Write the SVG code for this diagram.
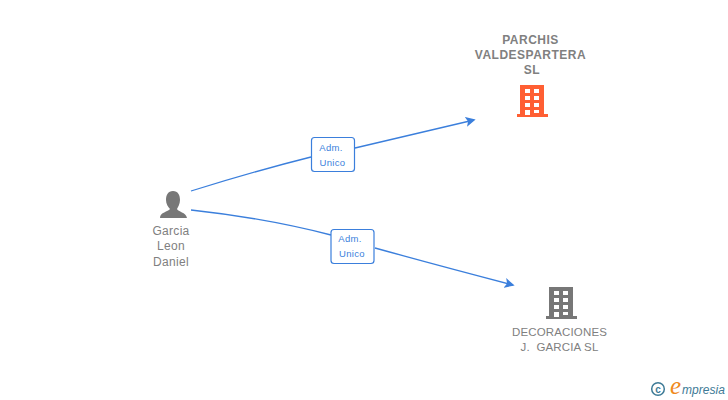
<svg xmlns="http://www.w3.org/2000/svg" width="728" height="400" viewBox="0 0 728 400">
<style>
.n{font-family:"Liberation Sans",Arial,sans-serif;font-size:12px;fill:#808080;text-anchor:middle}
.b{font-weight:bold;letter-spacing:.5px}
.d{font-size:11.500px;letter-spacing:.15px;white-space:pre}
.g{letter-spacing:.3px}
.l{font-family:"Liberation Sans",Arial,sans-serif;font-size:9.500px;fill:#3b7fdc;text-anchor:middle;letter-spacing:.35px}
.c{fill:none;stroke:#3b7fdc;stroke-width:1.300}
.box{fill:#fff;stroke:#3b7fdc;stroke-width:1.200}
</style>
<defs>
<marker id="a" viewBox="0 0 9 9" refX="7.500" refY="4.500" markerWidth="10" markerHeight="10" markerUnits="userSpaceOnUse" orient="auto"><path d="M0 0L9 4.500L0 9L2 4.500Z" fill="#3b7fdc"/></marker>
<g id="bld">
<path fill-rule="evenodd" d="M3 0H27V29H31V32H0V29H3ZM8 4V8H13V4ZM17 4V8H22V4ZM8 11V15H13V11ZM17 11V15H22V11ZM8 18V22H13V18ZM17 18V22H22V18ZM8 25V30H13V25ZM17 25V28H22V25Z"/>
</g>
</defs>
<g id="connectors">
<path class="c" marker-end="url(#a)" d="M191 191Q255 171 311 157M355 148Q410 135 474 120"/>
<path class="c" marker-end="url(#a)" d="M191 210Q265 218 331 235M375 248Q440 266 513 285"/>
</g>
<g id="edge1"><rect class="box" x="311.500" y="137.500" width="43" height="34" rx="3"/><text class="l" x="331" y="151">Adm.</text><text class="l" x="332.500" y="166">Unico</text></g>
<g id="edge2"><rect class="box" x="331" y="229.500" width="43" height="34" rx="3"/><text class="l" x="350" y="242">Adm.</text><text class="l" x="352" y="257">Unico</text></g>
<g id="person">
<path fill="#777" d="M173 191C178 191 180 195 180 200C180 204 178 207 177 209C178 212 186 212 187 218H160C160 212 168 212 170 209C168 207 166 204 166 200C166 195 168 191 173 191Z"/>
<text class="n g" x="171" y="235">Garcia</text><text class="n g" x="171" y="250">Leon</text><text class="n g" x="171" y="266">Daniel</text>
</g>
<g id="parchis">
<text class="n b" x="530.500" y="44">PARCHIS</text><text class="n b" x="530.500" y="59">VALDESPARTERA</text><text class="n b" x="532" y="74">SL</text>
<use href="#bld" x="517" y="85" fill="#ff5f33"/>
</g>
<g id="decoraciones">
<use href="#bld" x="546" y="287" fill="#777"/>
<text class="n d" x="559.500" y="336">DECORACIONES</text><text class="n d" x="559.500" y="351">J.  GARCIA SL</text>
</g>
<g id="logo">
<circle cx="658" cy="389" r="6.300" fill="none" stroke="#3d7a96" stroke-width="1.500"/>
<text x="658" y="392.500" font-family="Liberation Sans,sans-serif" font-weight="bold" font-size="10" fill="#3d7a96" text-anchor="middle">c</text>
<text x="670" y="394" font-family="Liberation Serif,serif" font-style="italic" font-size="25" fill="#f08a1d">e</text>
<text x="682" y="394" font-family="Liberation Sans,sans-serif" font-style="italic" font-size="12" fill="#3d7a96" textLength="43">mpresia</text>
</g>
</svg>
